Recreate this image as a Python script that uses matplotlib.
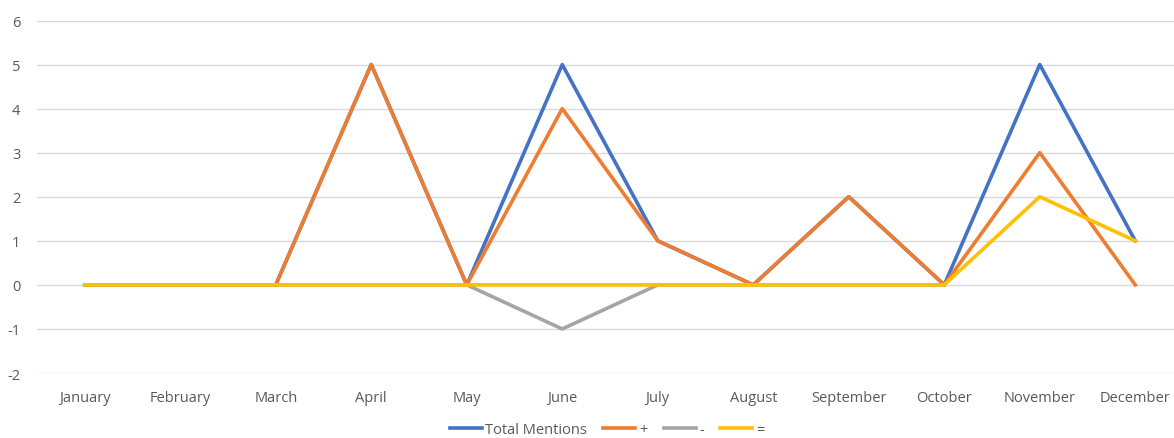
import matplotlib.pyplot as plt

months = ['January', 'February', 'March', 'April', 'May', 'June', 'July',
          'August', 'September', 'October', 'November', 'December']
total = [0, 0, 0, 5, 0, 5, 1, 0, 2, 0, 5, 1]
plus = [0, 0, 0, 5, 0, 4, 1, 0, 2, 0, 3, 0]
minus = [0, 0, 0, 0, 0, -1, 0, 0, 0, 0, None, None]
equal = [0, 0, 0, 0, 0, 0, 0, 0, 0, 0, 2, 1]

plt.rcParams['font.family'] = ['Open Sans', 'DejaVu Sans']
plt.rcParams['axes.unicode_minus'] = False

fig = plt.figure(figsize=(11.74, 4.39), dpi=100)
ax = fig.add_axes([37/1174, 1 - 374/439, 1146/1174, (374 - 21.5)/439])

x = range(len(months))
ax.plot(x, total, color='#4472C4', lw=2.6, label='Total Mentions')
ax.plot(x, plus, color='#ED7D31', lw=2.6, label='+')
ax.plot(x, [float('nan') if v is None else v for v in minus],
        color='#A5A5A5', lw=2.6, label='-')
ax.plot(x, equal, color='#FFC000', lw=2.6, label='=')

ax.set_xlim(-0.5, 11.5)
ax.set_ylim(-2, 6)
ax.set_yticks(range(-2, 7))
ax.set_xticks(list(x))
ax.set_xticklabels(months)
ax.grid(axis='y', color='#D9D9D9', lw=1)
ax.set_axisbelow(True)
for s in ax.spines.values():
    s.set_visible(False)
ax.tick_params(length=0, labelsize=10.5, labelcolor='#595959')
ax.tick_params(axis='y', pad=12)
ax.tick_params(axis='x', pad=12)

fig.legend(loc='center', bbox_to_anchor=(0.517, 1 - 431/439), ncol=4,
           frameon=False, fontsize=10.5, handlelength=2.2, handletextpad=0.25,
           columnspacing=1.1, labelcolor='#595959')

fig.savefig('out.png')
